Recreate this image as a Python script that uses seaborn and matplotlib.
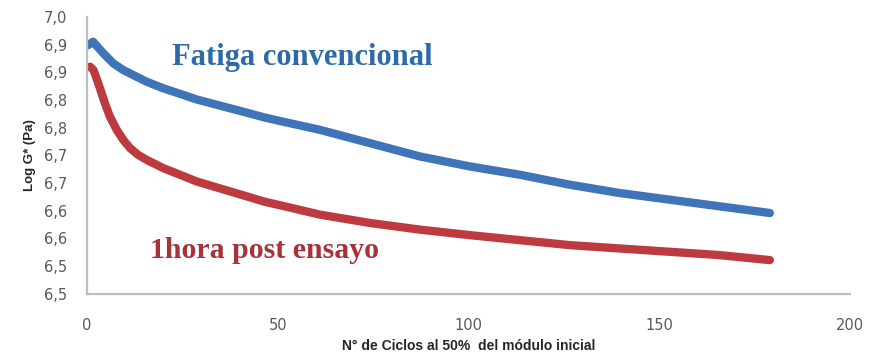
import matplotlib
matplotlib.use("Agg")
import matplotlib.pyplot as plt
import seaborn as sns
import pandas as pd

# Cycles and log modulus for the conventional fatigue test
ciclos_conv = [0.3, 1.6, 4.3, 6.9, 9.5, 12.1, 15.6, 20.0, 24.4, 28.7, 33.1, 37.5, 41.9, 46.2,
               50.6, 61.1, 74.2, 87.3, 100.4, 113.5, 126.6, 139.7, 152.8, 165.9, 179.0]
log_g_conv = [6.949, 6.955, 6.934, 6.916, 6.904, 6.895, 6.883, 6.871, 6.861, 6.851, 6.843, 6.835,
              6.827, 6.819, 6.812, 6.796, 6.772, 6.748, 6.730, 6.715, 6.697, 6.682, 6.670, 6.658,
              6.646]

# Cycles and log modulus one hour after the test
ciclos_post = [0.8, 1.7, 2.5, 3.4, 4.7, 6.0, 7.8, 9.5, 11.3, 13.4, 15.6, 20.0, 24.4, 28.7, 33.1,
               37.5, 41.9, 46.2, 50.6, 61.1, 74.2, 87.3, 100.4, 113.5, 126.6, 139.7, 152.8,
               165.9, 179.0]
log_g_post = [6.910, 6.904, 6.889, 6.871, 6.844, 6.820, 6.796, 6.778, 6.763, 6.751, 6.742, 6.727,
              6.715, 6.703, 6.694, 6.685, 6.676, 6.667, 6.660, 6.643, 6.628, 6.616, 6.606, 6.597,
              6.588, 6.582, 6.576, 6.570, 6.561]

x_ticks = [0, 50, 100, 150, 200]
y_ticks = [6.50, 6.55, 6.60, 6.65, 6.70, 6.75, 6.80, 6.85, 6.90, 6.95, 7.00]
y_tick_labels = ["6,5", "6,5", "6,6", "6,6", "6,7", "6,7", "6,8", "6,8", "6,9", "6,9", "7,0"]

serie_conv = "Fatiga convencional"
serie_post = "1hora post ensayo"

df = pd.concat([
    pd.DataFrame({"ciclos": ciclos_conv, "logG": log_g_conv, "serie": serie_conv}),
    pd.DataFrame({"ciclos": ciclos_post, "logG": log_g_post, "serie": serie_post}),
])

sns.set_theme(style="white")
plt.rcParams["font.family"] = ["DejaVu Sans"]

fig = plt.figure(figsize=(8.7, 3.58), dpi=100)
ax = fig.add_axes([0.1, 0.179, 0.877, 0.774])

palette = {serie_conv: "#3f74b9", serie_post: "#bd3b3e"}
sns.lineplot(data=df, x="ciclos", y="logG", hue="serie", palette=palette,
             linewidth=6, legend=False, ax=ax, solid_capstyle="round",
             solid_joinstyle="round")

ax.set_xlim(0, 200)
ax.set_ylim(6.5, 7.0)
ax.set_xticks(x_ticks)
ax.set_xticklabels([str(t) for t in x_ticks])
ax.set_yticks(y_ticks)
ax.set_yticklabels(y_tick_labels)
ax.tick_params(axis="both", length=0, labelsize=10.5, labelcolor="#595959")
ax.tick_params(axis="y", pad=14)
ax.tick_params(axis="x", pad=17)

for side in ["top", "right"]:
    ax.spines[side].set_visible(False)
for side in ["left", "bottom"]:
    ax.spines[side].set_color("#bfbfbf")
    ax.spines[side].set_linewidth(1.6)

ax.set_xlabel("N° de Ciclos al 50%  del módulo inicial", fontsize=10, fontweight="bold",
              family=["Liberation Sans"], color="#262626", labelpad=5)
ax.set_ylabel("Log G* (Pa)", fontsize=9.5, fontweight="bold",
              family=["Liberation Sans"], color="#262626", labelpad=6)

ax.text(56.4, 6.926, serie_conv, fontsize=22, fontweight="bold", family=["Liberation Serif"],
        color="#2f6aa8", va="center", ha="center")
ax.text(46.4, 6.578, serie_post, fontsize=21.5, fontweight="bold", family=["Liberation Serif"],
        color="#a8323a", va="center", ha="center")

fig.savefig("out.png", dpi=100, facecolor="white")
